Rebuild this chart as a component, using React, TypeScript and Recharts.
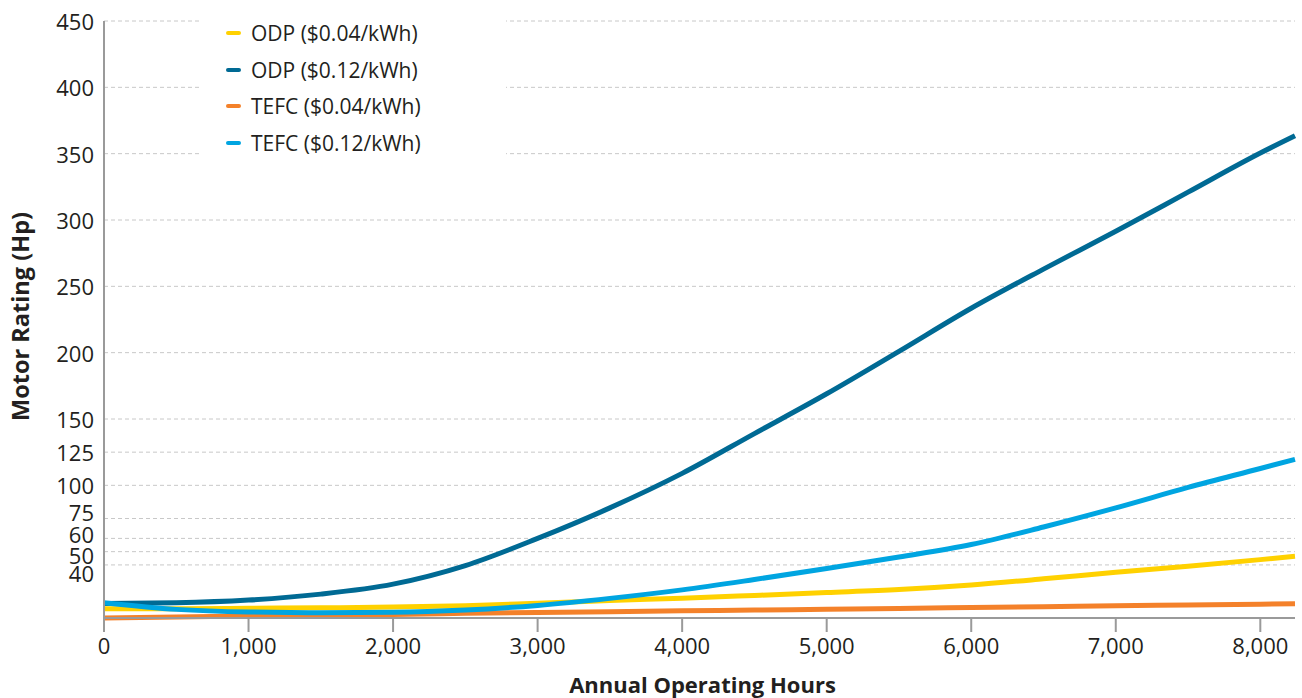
import {
  CartesianGrid,
  Label,
  Legend,
  Line,
  LineChart,
  XAxis,
  YAxis,
} from "recharts"

const HOURS = [0, 500, 1000, 1500, 2000, 2500, 3000, 3500, 4000, 4500, 5000, 5500, 6000, 6500, 7000, 7500, 8000, 8240]

const ODP_04 = [7, 7, 7.3, 7.7, 8.2, 9.3, 11.2, 13.2, 14.9, 17, 19.2, 21.5, 24.9, 29.5, 34.5, 39, 44, 46.5]
const ODP_12 = [11, 11.5, 13.5, 18, 25.5, 39.5, 60, 83, 109, 139, 169, 201, 233.5, 263, 291.5, 321, 350.5, 363.5]
const TEFC_04 = [0, 0.8, 1.5, 2.1, 2.7, 3.5, 4.2, 4.8, 5.4, 6, 6.6, 7.2, 7.9, 8.5, 9.2, 9.8, 10.4, 10.8]
const TEFC_12 = [11.5, 6.5, 4.5, 4, 4.3, 6, 9.5, 14.8, 21.2, 29, 37.3, 46, 55.4, 68.6, 83, 98.4, 112.7, 119.6]

const X_TICKS = [0, 1000, 2000, 3000, 4000, 5000, 6000, 7000, 8000]
const Y_TICKS = [40, 50, 60, 75, 100, 125, 150, 200, 250, 300, 350, 400, 450]

const SERIES = [
  { key: "ODP ($0.04/kWh)", values: ODP_04, color: "#FFD100" },
  { key: "ODP ($0.12/kWh)", values: ODP_12, color: "#006A94" },
  { key: "TEFC ($0.04/kWh)", values: TEFC_04, color: "#F4812A" },
  { key: "TEFC ($0.12/kWh)", values: TEFC_12, color: "#00A5E1" },
]

// the crowded low labels are nudged apart in the original
const LABEL_NUDGE: Record<number, number> = { 75: -7, 60: -4, 50: 3, 40: 8 }

const FONT = "'Open Sans', sans-serif"
const TEXT = "#231F20"
const AXIS = "#9A9A9A"

const data = HOURS.map((hours, i) => {
  const row: Record<string, number> = { hours }
  SERIES.forEach((s) => (row[s.key] = s.values[i]))
  return row
})

function YTick({ x, y, payload }: any) {
  const dy = LABEL_NUDGE[payload.value] ?? 0
  return (
    <text x={x} y={y + dy} textAnchor="end" dominantBaseline="central" fontSize={22} fill={TEXT} fontFamily={FONT}>
      {payload.value}
    </text>
  )
}

function LegendBox() {
  return (
    <div style={{ background: "#fff", width: "100%", height: "100%", fontFamily: FONT }}>
      {SERIES.map((s, i) => (
        <div
          key={s.key}
          style={{ position: "absolute", left: 26, top: 33 + i * 36.5, display: "flex", alignItems: "center", transform: "translateY(-50%)" }}
        >
          <span style={{ display: "inline-block", width: 15, height: 4, borderRadius: 2, background: s.color }} />
          <span style={{ marginLeft: 10, fontSize: 21, color: TEXT, whiteSpace: "nowrap" }}>{s.key}</span>
        </div>
      ))}
    </div>
  )
}

export default function App() {
  return (
    <div style={{ position: "absolute", left: 0, top: 0, width: 1302, height: 698, background: "#fff" }}>
      <LineChart width={1302} height={698} data={data} margin={{ top: 21, right: 7, bottom: 30, left: 0 }}>
        <CartesianGrid vertical={false} stroke="#C8C8C8" strokeDasharray="4 3" />
        <XAxis
          dataKey="hours"
          type="number"
          domain={[0, 8240]}
          ticks={X_TICKS}
          tickFormatter={(v: number) => v.toLocaleString("en-US")}
          height={50}
          tickSize={14}
          tickMargin={6}
          stroke={AXIS}
          strokeWidth={2}
          tick={{ fontSize: 22, fill: TEXT, fontFamily: FONT }}
        >
          <Label
            content={({ viewBox }: any) => (
              <text
                x={viewBox.x + viewBox.width / 2 + 3}
                y={684}
                textAnchor="middle"
                dominantBaseline="central"
                fontSize={22}
                fontWeight={700}
                fill={TEXT}
                fontFamily={FONT}
              >
                Annual Operating Hours
              </text>
            )}
          />
        </XAxis>
        <YAxis
          type="number"
          domain={[0, 450]}
          ticks={Y_TICKS}
          width={104}
          tickSize={0}
          tickMargin={10}
          stroke={AXIS}
          strokeWidth={2}
          tick={<YTick />}
          interval={0}
        >
          <Label
            content={({ viewBox }: any) => {
              const cy = viewBox.y + viewBox.height / 2 - 3
              return (
                <text
                  x={20}
                  y={cy}
                  transform={`rotate(-90, 20, ${cy})`}
                  textAnchor="middle"
                  dominantBaseline="central"
                  fontSize={23.5}
                  fontWeight={700}
                  fill={TEXT}
                  fontFamily={FONT}
                >
                  Motor Rating (Hp)
                </text>
              )
            }}
          />
        </YAxis>
        <Legend
          layout="vertical"
          align="center"
          verticalAlign="middle"
          content={<LegendBox />}
          wrapperStyle={{ left: 200, top: 0, width: 306, height: 165 }}
        />
        {SERIES.map((s) => (
          <Line
            key={s.key}
            type="monotone"
            dataKey={s.key}
            stroke={s.color}
            strokeWidth={5}
            dot={false}
            activeDot={false}
            isAnimationActive={false}
          />
        ))}
      </LineChart>
    </div>
  )
}
